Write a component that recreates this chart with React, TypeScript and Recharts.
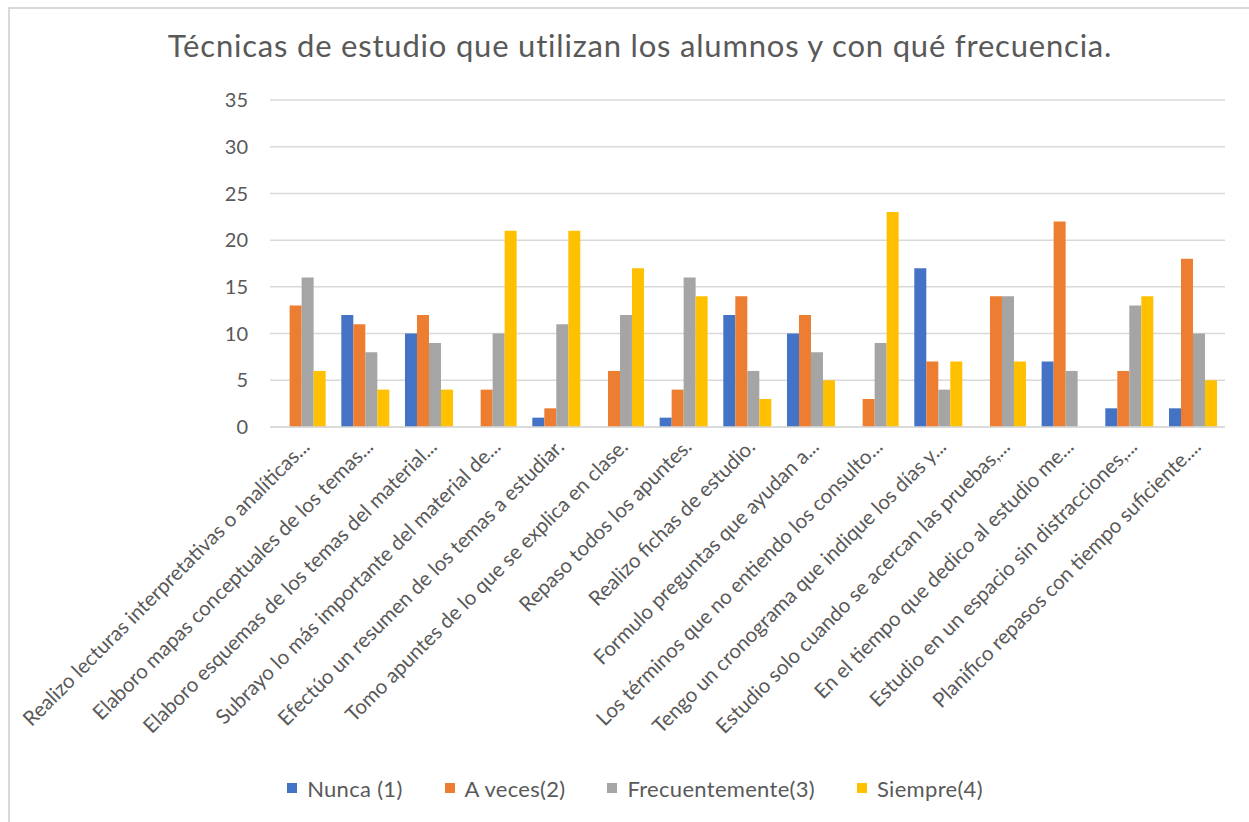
import React from "react";
import { BarChart, Bar, XAxis, YAxis, CartesianGrid, Legend } from "recharts";

const categories = [
  "Realizo lecturas interpretativas o analíticas...",
  "Elaboro mapas conceptuales de los temas...",
  "Elaboro esquemas de los temas del material...",
  "Subrayo lo más importante del material de...",
  "Efectúo un resumen de los temas a estudiar.",
  "Tomo apuntes de lo que se explica en clase.",
  "Repaso todos los apuntes.",
  "Realizo fichas de estudio.",
  "Formulo preguntas que ayudan a...",
  "Los términos que no entiendo los consulto...",
  "Tengo un cronograma que indique los días y...",
  "Estudio solo cuando se acercan las pruebas,...",
  "En el tiempo que dedico al estudio me...",
  "Estudio en un espacio sin distracciones,...",
  "Planifico repasos con tiempo suficiente....",
];

const nunca = [0, 12, 10, 0, 1, 0, 1, 12, 10, 0, 17, 0, 7, 2, 2];
const aVeces = [13, 11, 12, 4, 2, 6, 4, 14, 12, 3, 7, 14, 22, 6, 18];
const frecuentemente = [16, 8, 9, 10, 11, 12, 16, 6, 8, 9, 4, 14, 6, 13, 10];
const siempre = [6, 4, 4, 21, 21, 17, 14, 3, 5, 23, 7, 7, 0, 14, 5];

const yTicks = [0, 5, 10, 15, 20, 25, 30, 35];

const series = [
  { key: "nunca", name: "Nunca (1)", color: "#4472C4" },
  { key: "aVeces", name: "A veces(2)", color: "#ED7D31" },
  { key: "frecuentemente", name: "Frecuentemente(3)", color: "#A5A5A5" },
  { key: "siempre", name: "Siempre(4)", color: "#FFC000" },
];

const rows = categories.map((name, i) => ({
  name,
  nunca: nunca[i],
  aVeces: aVeces[i],
  frecuentemente: frecuentemente[i],
  siempre: siempre[i],
}));

const FONT = "Lato, 'Open Sans', sans-serif";
const TEXT = "#595959";

function AngledTick(props: any) {
  const { x, y, payload } = props;
  const tx = x + 9;
  const ty = y + 21;
  return (
    <text
      x={tx}
      y={ty}
      transform={`rotate(-45, ${tx}, ${ty})`}
      textAnchor="end"
      fill={TEXT}
      fontSize={20.5}
      fontFamily={FONT}
    >
      {payload.value}
    </text>
  );
}

function LegendRow() {
  return (
    <div style={{ height: 30, display: "flex", justifyContent: "center", alignItems: "center", gap: 42, fontFamily: FONT, fontSize: 22, letterSpacing: 0.3, color: TEXT, paddingLeft: 45 }}>
      {series.map((s) => (
        <div key={s.key} style={{ display: "flex", alignItems: "center" }}>
          <span style={{ display: "inline-block", width: 10, height: 10, background: s.color, marginRight: 10 }} />
          {s.name}
        </div>
      ))}
    </div>
  );
}

export default function App() {
  return (
    <div style={{ position: "absolute", left: 0, top: 0, width: 1249, height: 822, background: "#fff", overflow: "hidden" }}>
      <div style={{ position: "absolute", left: 8, top: 7, width: 1300, height: 900, borderTop: "2px solid #d9d9d9", borderLeft: "2px solid #d9d9d9" }} />
      <div style={{ position: "absolute", left: 0, top: 25, width: 1280, textAlign: "center", fontFamily: FONT, fontSize: 31, letterSpacing: 0.8, color: TEXT, lineHeight: "40px", whiteSpace: "nowrap" }}>
        Técnicas de estudio que utilizan los alumnos y con qué frecuencia.
      </div>
      <div style={{ position: "absolute", left: 0, top: 0 }}>
        <BarChart
          width={1249}
          height={822}
          data={rows}
          margin={{ top: 100, right: 24, left: 0, bottom: 19 }}
          barCategoryGap="12%"
          barGap={0}
        >
          <CartesianGrid vertical={false} stroke="#d9d9d9" strokeWidth={1.5} />
          <XAxis
            dataKey="name"
            interval={0}
            height={346}
            tickLine={false}
            tickSize={0}
            tickMargin={0}
            axisLine={{ stroke: "#d9d9d9", strokeWidth: 1.5 }}
            tick={<AngledTick />}
          />
          <YAxis
            width={270}
            domain={[0, 35]}
            ticks={yTicks}
            interval={0}
            axisLine={false}
            tickLine={false}
            tickSize={0}
            tickMargin={22}
            tick={{ fill: TEXT, fontSize: 20, fontFamily: FONT }}
          />
          <Legend verticalAlign="bottom" content={() => <LegendRow />} />
          {series.map((s) => (
            <Bar key={s.key} dataKey={s.key} name={s.name} fill={s.color} isAnimationActive={false} />
          ))}
        </BarChart>
      </div>
    </div>
  );
}
